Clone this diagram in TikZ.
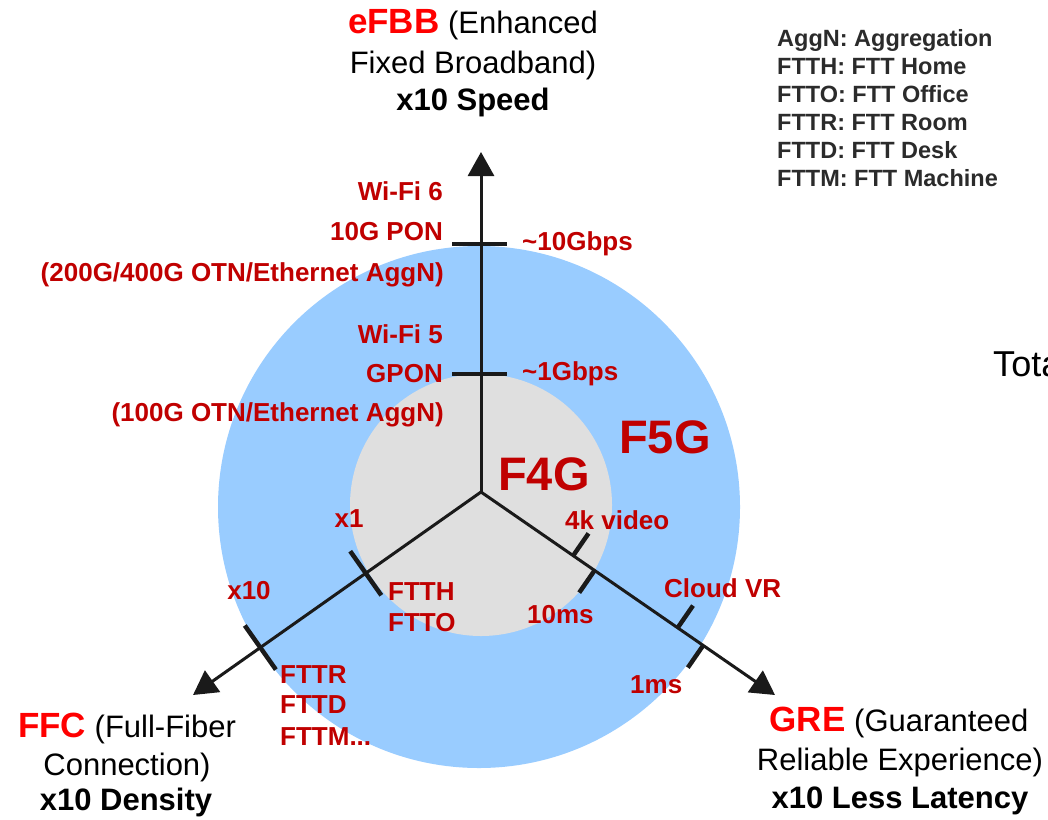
\documentclass[tikz,border=0pt]{standalone}
\usepackage{fontspec}
\setmainfont{Liberation Sans}
\usetikzlibrary{calc,arrows.meta}
\definecolor{dred}{HTML}{C00000}
\definecolor{bred}{HTML}{FF0000}
\definecolor{bluefive}{HTML}{99CCFF}
\definecolor{grayfour}{HTML}{DFDFDF}
\definecolor{axisc}{HTML}{1A1A1A}
\definecolor{legc}{HTML}{2B2B2B}
\begin{document}
\begin{tikzpicture}[x=1pt,y=-1pt,
  lab/.style={text=dred,font=\fontsize{26}{30}\selectfont\bfseries,inner sep=0pt},
  big/.style={text=dred,font=\fontsize{47}{52}\selectfont\bfseries,inner sep=0pt},
  ttl/.style={text=black,font=\fontsize{31}{36}\selectfont,inner sep=0pt,anchor=base},
  ttlb/.style={text=black,font=\fontsize{31}{36}\selectfont\bfseries,inner sep=0pt,anchor=base},
  leg/.style={text=legc,font=\fontsize{23.5}{28}\selectfont\bfseries,inner sep=0pt,anchor=base west},
  axisline/.style={draw=axisc,line width=3pt,-{Triangle[length=24pt,width=26pt]}},
  tickline/.style={draw=axisc,line width=4.5pt}]
\clip (0,0) rectangle (1048,819);
\fill[white] (0,0) rectangle (1048,819);
% circles
\fill[bluefive] (479,507) circle[radius=261];
\fill[grayfour] (481,505) circle[radius=131];
% axes
\coordinate (O) at (481,492);
\coordinate (U) at (481,152);
\coordinate (L) at (193,695);
\coordinate (R) at (775,695);
\draw[axisline] (O) -- (U);
\draw[axisline] (O) -- (L);
\draw[axisline] (O) -- (R);
% ticks up
\coordinate (u10) at (481,244);
\coordinate (u1) at (481,374);
\draw[tickline] ($(u10)+(-29,0)$) -- ($(u10)+(26,0)$);
\draw[tickline] ($(u1)+(-29,0)$) -- ($(u1)+(26,0)$);
% ticks left
\coordinate (l1) at ($(O)!141pt!(L)$);
\coordinate (l10) at ($(O)!270pt!(L)$);
\draw[tickline] ($(l1)!27pt!90:(L)$) -- ($(l1)!27pt!-90:(L)$);
\draw[tickline] ($(l10)!27pt!90:(L)$) -- ($(l10)!27pt!-90:(L)$);
% ticks right
\coordinate (r4k) at ($(O)!112pt!(R)$);
\coordinate (r10) at ($(O)!138pt!(R)$);
\coordinate (rvr) at ($(O)!239pt!(R)$);
\coordinate (r1) at ($(O)!270pt!(R)$);
\draw[tickline] (r4k) -- ($(r4k)!27pt!90:(R)$);
\draw[tickline] (r10) -- ($(r10)!27pt!-90:(R)$);
\draw[tickline] (rvr) -- ($(rvr)!27pt!90:(R)$);
\draw[tickline] (r1) -- ($(r1)!27pt!-90:(R)$);
% big labels
\node[big,anchor=base west] (f5g) at (619,453) {F5G};
\node[big,anchor=base west] (f4g) at (498,490) {F4G};
% up axis labels
\node[lab,anchor=base east] (wifi6) at (443,200) {Wi-Fi 6};
\node[lab,anchor=base east] (pon10) at (443,240) {10G PON};
\node[lab,anchor=base east] (otn400) at (444,281) {(200G/400G OTN/Ethernet AggN)};
\node[lab,anchor=base east] (wifi5) at (443,343) {Wi-Fi 5};
\node[lab,anchor=base east] (gpon) at (443,382) {GPON};
\node[lab,anchor=base east] (otn100) at (444,421) {(100G OTN/Ethernet AggN)};
\node[lab,anchor=base west] (g10) at (522,250) {\textasciitilde10Gbps};
\node[lab,anchor=base west] (g1) at (522,380) {\textasciitilde1Gbps};
% left axis labels
\node[lab,anchor=base] (x1) at (349,527) {x1};
\node[lab,anchor=base] (x10) at (249,599) {x10};
\node[lab,anchor=base west] (ftth) at (388,600) {FTTH};
\node[lab,anchor=base west] (ftto) at (388,631) {FTTO};
\node[lab,anchor=base west] (fttr) at (280,683) {FTTR};
\node[lab,anchor=base west] (fttd) at (280,713) {FTTD};
\node[lab,anchor=base west] (fttm) at (280,745) {FTTM...};
% right axis labels
\node[lab,anchor=base west] (v4k) at (565,529) {4k video};
\node[lab,anchor=base west] (ms10) at (527,623) {10ms};
\node[lab,anchor=base west] (cvr) at (664,597) {Cloud VR};
\node[lab,anchor=base west] (ms1) at (630,693) {1ms};
% titles
\node[ttl] (efbb1) at (473,33) {{\color{bred}\fontsize{35}{40}\selectfont\bfseries eFBB} (Enhanced};
\node[ttl] (efbb2) at (473,73) {Fixed Broadband)};
\node[ttlb] (efbb3) at (473,110) {x10 Speed};
\node[ttl] (ffc1) at (127,737) {{\color{bred}\fontsize{35}{40}\selectfont\bfseries FFC} (Full-Fiber};
\node[ttl] (ffc2) at (127,775) {Connection)};
\node[ttlb] (ffc3) at (126,810) {x10 Density};
\node[ttl] (gre1) at (899,731) {{\color{bred}\fontsize{35}{40}\selectfont\bfseries GRE} (Guaranteed};
\node[ttl] (gre2) at (900,770) {Reliable Experience)};
\node[ttlb] (gre3) at (900,808) {x10 Less Latency};
% legend
\node[leg] (lg1) at (777,46) {AggN: Aggregation};
\node[leg] (lg2) at (777,74) {FTTH: FTT Home};
\node[leg] (lg3) at (777,102) {FTTO: FTT Office};
\node[leg] (lg4) at (777,130) {FTTR: FTT Room};
\node[leg] (lg5) at (777,158) {FTTD: FTT Desk};
\node[leg] (lg6) at (777,186) {FTTM: FTT Machine};
% text cut by the right edge, as in the reference
\node[inner sep=0pt,anchor=base west,font=\fontsize{36}{40}\selectfont] (tota) at (993,376) {Tota};
\end{tikzpicture}
\end{document}
